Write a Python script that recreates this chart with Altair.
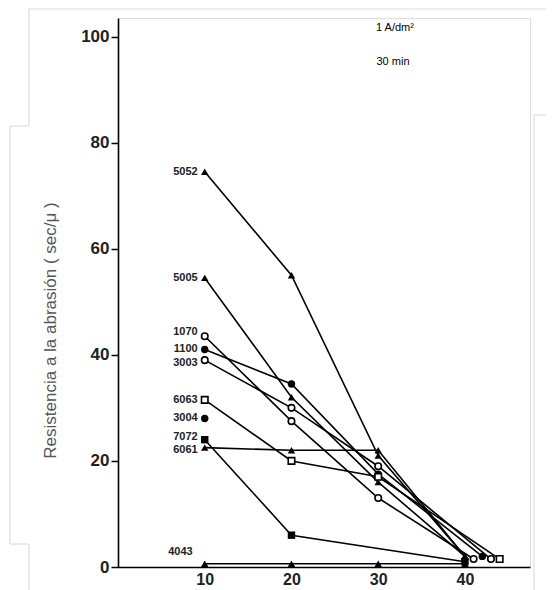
import altair as alt
import pandas as pd

series = ["5052", "5005", "1070", "1100", "3003", "6063", "3004", "7072", "6061", "4043"]
shapes = ["triangle-up", "triangle-up", "circle", "circle", "circle", "square", "circle", "square", "triangle-up", "triangle-up"]
filled = [True, True, False, True, False, False, True, True, True, True]
xs = {
    "5052": [10, 20, 30, 40],
    "5005": [10, 20, 30, 40],
    "1070": [10, 20, 30, 41],
    "1100": [10, 20, 30, 42],
    "3003": [10, 20, 30, 43],
    "6063": [10, 20, 30, 44],
    "3004": [10],
    "7072": [10, 20, 40],
    "6061": [10, 20, 30, 40],
    "4043": [10, 20, 30, 40],
}
ys = {
    "5052": [74.5, 55, 21, 2],
    "5005": [54.5, 32, 16, 2],
    "1070": [43.5, 27.5, 13, 1.5],
    "1100": [41, 34.5, 17.5, 2],
    "3003": [39, 30, 19, 1.5],
    "6063": [31.5, 20, 17, 1.5],
    "3004": [28],
    "7072": [24, 6, 1],
    "6061": [22.5, 22, 22, 2],
    "4043": [0.6, 0.6, 0.6, 0.6],
}
y_ticks = [0, 20, 40, 60, 80, 100]
x_ticks = [10, 20, 30, 40]
y_title = "Resistencia a la abrasión ( sec/μ )"
notes = ["1 A/dm²", "30 min"]

# label vertical nudges (pixels), styling only
label_dy = {"1070": -4, "1100": -1, "3003": 3, "7072": -3, "6061": 2, "4043": -12}

rows = []
for s, sh, f in zip(series, shapes, filled):
    for i, (x, y) in enumerate(zip(xs[s], ys[s])):
        rows.append({"serie": s, "x": x, "y": y, "shape": sh, "filled": f, "first": i == 0})
df = pd.DataFrame(rows)

xsc = alt.Scale(domain=[0, 47.5], nice=False, zero=False)
ysc = alt.Scale(domain=[0, 103.5], nice=False)

base = alt.Chart(df).encode(
    x=alt.X("x:Q", scale=xsc, axis=alt.Axis(
        values=x_ticks, title=None, grid=False, ticks=False, domainColor="black",
        domainWidth=1.6, labelFont="Liberation Sans", labelFontSize=16, labelFontWeight="bold",
        labelColor="#222", labelPadding=4)),
    y=alt.Y("y:Q", scale=ysc, axis=alt.Axis(
        values=y_ticks, title=y_title, grid=False, tickSize=7, tickColor="black", tickWidth=1.5,
        domainColor="black", domainWidth=1.6, labelFont="Liberation Sans", labelFontSize=17,
        labelFontWeight="bold", labelColor="#222", labelPadding=2,
        titleFont="Liberation Sans", titleFontSize=17, titleFontWeight="normal",
        titleColor="#555", titleX=-68, titleY=312, titleAngle=270, titleAlign="center",
        titleBaseline="middle")),
)

lines = base.mark_line(color="black", strokeWidth=1.6).encode(detail="serie:N")

shape_scale = alt.Scale(domain=series, range=shapes)
pts_filled = base.transform_filter("datum.filled").mark_point(
    filled=True, color="black", size=55, opacity=1).encode(
    shape=alt.Shape("serie:N", scale=shape_scale, legend=None))
pts_open = base.transform_filter("!datum.filled").mark_point(
    filled=False, color="black", fill="white", size=42, strokeWidth=1.6, opacity=1).encode(
    shape=alt.Shape("serie:N", scale=shape_scale, legend=None))

label_layers = []
for s in series:
    dx = -12 if s == "4043" else -7
    label_layers.append(
        base.transform_filter(f"datum.first && datum.serie == '{s}'").mark_text(
            align="right", baseline="middle", dx=dx, dy=label_dy.get(s, 0),
            font="Liberation Sans", fontSize=11, fontWeight="bold", color="#222"
        ).encode(text="serie:N")
    )

note1 = alt.Chart(pd.DataFrame({"t": [notes[0]]})).mark_text(
    font="Liberation Sans", fontSize=11, color="black", align="center", baseline="middle"
).encode(text="t:N", x=alt.value(277), y=alt.value(10))
note2 = alt.Chart(pd.DataFrame({"t": [notes[1]]})).mark_text(
    font="Liberation Sans", fontSize=11, color="black", align="center", baseline="middle"
).encode(text="t:N", x=alt.value(275), y=alt.value(44))

# faint scan frame lines (decoration)
frame_segments = [
    (-90, 436, -9, -9), (-89, -89, -9, 108), (-108, -89, 108, 108),
    (-108, -108, 108, 526), (-108, -89, 526, 526), (-89, -89, 526, 575),
    (416, 436, 97, 97), (416, 416, 97, 575),
]
frame = []
for x1, x2, y1, y2 in frame_segments:
    frame.append(alt.Chart(pd.DataFrame({"a": [0]})).mark_rule(color="#dddddd", strokeWidth=1.2).encode(
        x=alt.value(x1), x2=alt.value(x2), y=alt.value(y1), y2=alt.value(y2)))

chart = alt.layer(*frame, lines, pts_filled, pts_open, *label_layers, note1, note2).properties(
    width=412, height=549,
    autosize=alt.AutoSizeParams(type="none"),
    padding={"left": 110, "top": 10, "right": 16, "bottom": 24},
).configure_view(stroke=None).configure(background="white")

chart.save("out.html", embed_options={"renderer": "svg", "actions": False})
